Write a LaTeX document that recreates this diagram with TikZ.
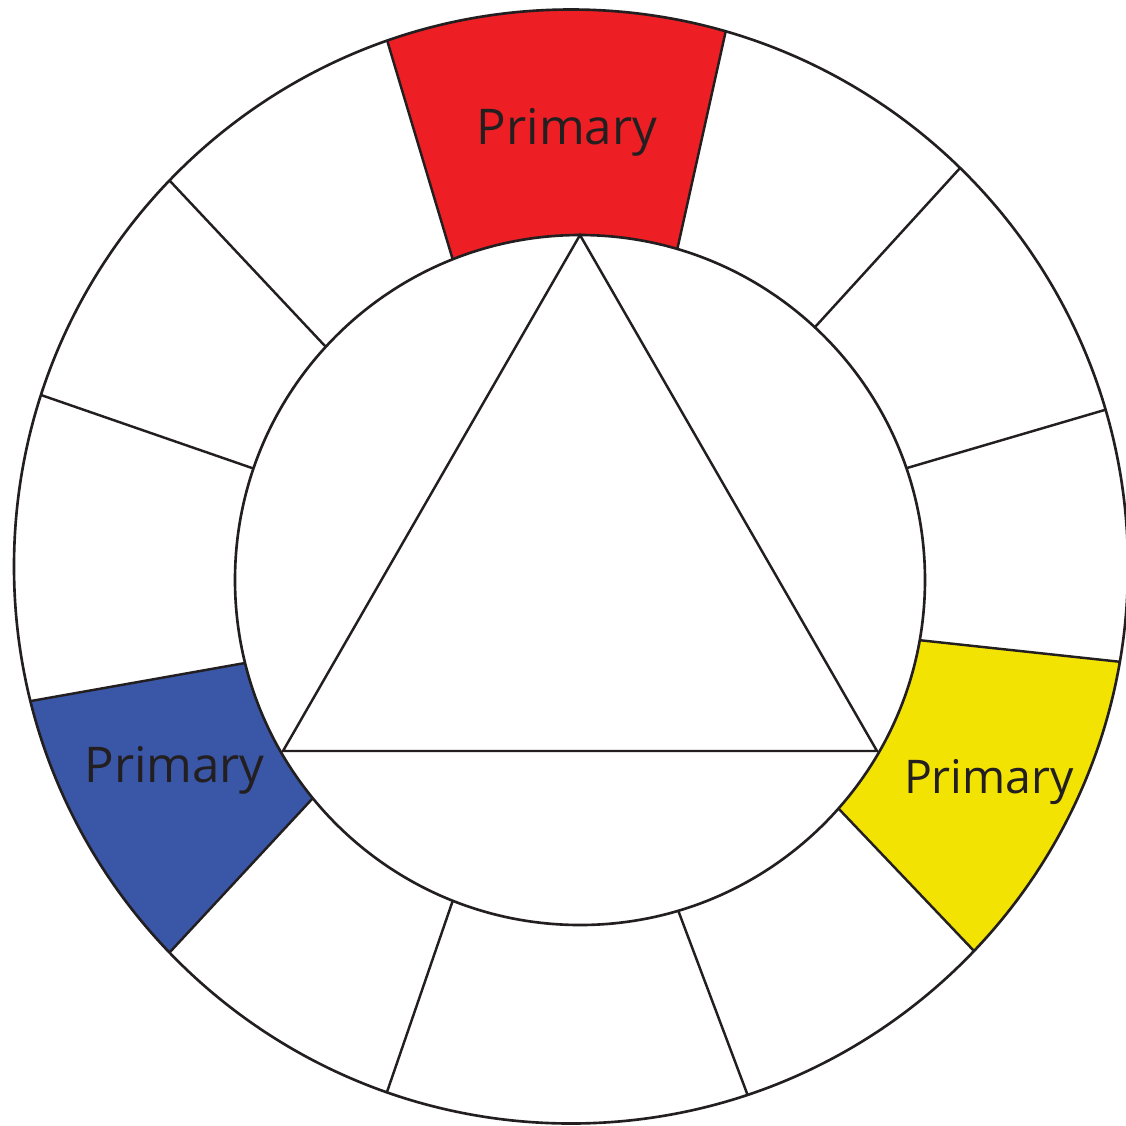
\documentclass[tikz,border=0pt]{standalone}
\usepackage{fontspec}
\setsansfont{Open Sans}
\usetikzlibrary{calc}
\definecolor{wheelred}{HTML}{ED1F24}
\definecolor{wheelblue}{HTML}{3A56A6}
\definecolor{wheelyellow}{HTML}{F2E303}
\definecolor{inkgray}{HTML}{231F20}
\tikzset{
	rim/.style={draw=inkgray, line width=0.75pt},
	spoke/.style={draw=inkgray, line width=0.7pt},
	plabel/.style={font=\sffamily\fontsize{14}{16}\selectfont, text=inkgray, inner sep=0pt, anchor=base}
}

\begin{document}
\begin{tikzpicture}[x=0.01cm, y=-0.01cm]
	\useasboundingbox (0,0) rectangle (1126,1126);
	\coordinate (oc) at (571,566.5);
	\coordinate (ic) at (580,580);
	% spoke ends: inner circle / outer circle
	\foreach \n/\ix/\iy/\ox/\oy in {1/452/257/387/40, 2/678/246/726/30, 3/816/326/961/167,
		4/907/468/1108/409, 5/918/640/1122/662, 6/838/808/975/952, 7/678/910/748/1096,
		8/453/900/387/1092, 9/313/798/170/952, 10/245/663/31/701, 11/252/468/41/395,
		12/325/346/170/181}{
		\coordinate (i\n) at (\ix,\iy);
		\coordinate (o\n) at (\ox,\oy);
	}
	\begin{scope}
		\clip (oc) circle (557);
		\fill[wheelred] (ic) -- (i1) -- ($(i1)!1.4!(o1)$) -- ($(i2)!1.4!(o2)$) -- (i2) -- cycle;
		\fill[wheelyellow] (ic) -- (i5) -- ($(i5)!1.4!(o5)$) -- ($(i6)!1.4!(o6)$) -- (i6) -- cycle;
		\fill[wheelblue] (ic) -- (i9) -- ($(i9)!1.4!(o9)$) -- ($(i10)!1.4!(o10)$) -- (i10) -- cycle;
		\foreach \n in {1,...,12}
			\draw[spoke] ($(o\n)!1.1!(i\n)$) -- ($(i\n)!1.1!(o\n)$);
	\end{scope}
	\draw[rim, fill=white] (ic) circle (345);
	\draw[rim] (oc) circle (557);
	% triangle
	\coordinate (ta) at (580,235);
	\coordinate (tb) at (283,751);
	\coordinate (tc) at (877,751);
	\draw[spoke, line join=miter] (ta) -- (tb) -- (tc) -- cycle;
	\node[plabel] (redtxt) at (567,144) {Primary};
	\node[plabel] (bluetxt) at (174.5,782) {Primary};
	\node[plabel, font=\sffamily\fontsize{13.2}{15}\selectfont] (yellowtxt) at (989,793) {Primary};
\end{tikzpicture}
\end{document}
